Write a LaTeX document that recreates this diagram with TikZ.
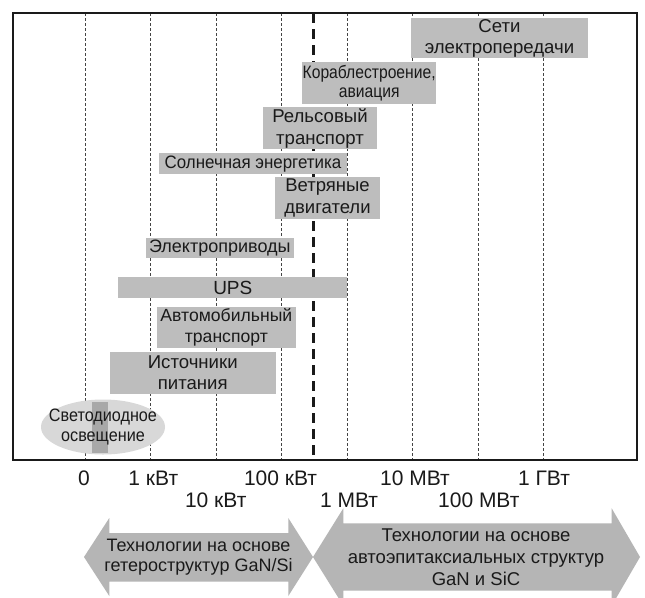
\documentclass[tikz,border=0pt]{standalone}
\usepackage{fontspec}
\setmainfont{Liberation Sans}
\newfontfamily\narrowA[FakeStretch=0.87]{Liberation Sans}
\newfontfamily\narrowB[FakeStretch=0.9]{Liberation Sans}
\newfontfamily\narrowC[FakeStretch=0.94]{Liberation Sans}
\usetikzlibrary{shapes.geometric,calc}
\definecolor{barfill}{HTML}{BDBDBD}
\definecolor{arrowfill}{HTML}{B5B5B5}
\definecolor{ellfill}{HTML}{D8D8D8}
\definecolor{ledfill}{HTML}{A8A8A8}
\definecolor{txt}{HTML}{1A1A1A}
\definecolor{gridc}{HTML}{444444}
\begin{document}
\begin{tikzpicture}[x=1pt,y=-1pt,
  bar/.style={fill=barfill, inner sep=0pt, align=center, text=txt,
    font=\fontsize{18}{21.5}\selectfont},
  tick/.style={inner sep=0pt, text=txt, font=\fontsize{21}{24}\selectfont},
  gridline/.style={draw=gridc, line width=0.8pt, dash pattern=on 2.5pt off 2.5pt},
  bigdash/.style={draw=txt, line width=2.6pt, dash pattern=on 10pt off 6pt},
  frame/.style={draw=txt, line width=1.5pt},
  arrowshape/.style={fill=arrowfill},
  arrowtext/.style={inner sep=0pt, align=center, text=txt}]
\useasboundingbox (0,0) rectangle (645,597);
\fill[white] (0,0) rectangle (645,597);

% grid lines
\foreach \i in {0,...,7}
  \draw[gridline] ({85+65.5*\i},13) -- ({85+65.5*\i},460);
\draw[bigdash] (313.3,13) -- (313.3,460);

% bars
\node[bar, minimum width=177.6pt, minimum height=40pt, font=\fontsize{18.6}{21.5}\selectfont] (seti) at (499.5,38.3) {Сети\\электропередачи};
\node[bar, minimum width=133.7pt, minimum height=42.6pt, font=\narrowA\fontsize{18}{19.5}\selectfont] (korabl) at (369.15,83) {Кораблестроение,\\авиация};
\node[bar, minimum width=113.4pt, minimum height=42pt, font=\fontsize{18.6}{21.5}\selectfont] (rels) at (320,128.3) {Рельсовый\\транспорт};
\node[bar, minimum width=187.4pt, minimum height=20.7pt, font=\narrowC\fontsize{18}{21}\selectfont] (soln) at (253,163.65) {Солнечная энергетика};
\node[bar, minimum width=105pt, minimum height=41.7pt, font=\fontsize{18.5}{21.5}\selectfont] (vetr) at (327.5,198.15) {Ветряные\\двигатели};
\node[bar, minimum width=148.3pt, minimum height=20.6pt] (elpr) at (219.85,248) {Электроприводы};
\node[bar, minimum width=229pt, minimum height=21pt, font=\fontsize{19}{21.5}\selectfont] (ups) at (232.8,287.8) {UPS};
\node[bar, minimum width=139.3pt, minimum height=41.6pt, font=\fontsize{17.6}{21.5}\selectfont] (avto) at (226.35,327.5) {Автомобильный\\транспорт};
\node[bar, minimum width=165.5pt, minimum height=42.3pt, font=\fontsize{18.6}{21.5}\selectfont] (ist) at (192.75,372.85) {Источники\\питания};

% LED ellipse
\node[ellipse, fill=ellfill, minimum width=124pt, minimum height=55pt,
  inner xsep=-16pt, inner ysep=-3pt,
  align=center, text=txt, font=\narrowB\fontsize{18}{20}\selectfont,
  path picture={\fill[ledfill] ($(path picture bounding box.center)+(-11.3,-25.5)$)
     rectangle ($(path picture bounding box.center)+(4.7,26.2)$);}]
  (led) at (103,427) {Светодиодное\\освещение};

% frame
\draw[frame] (13,13) rectangle (637,460);

% tick labels
\node[tick] (t0) at (84,478.3) {0};
\node[tick] (t1k) at (153.3,478.3) {1 кВт};
\node[tick] (t100k) at (280.5,478.3) {100 кВт};
\node[tick] (t10M) at (415,478.3) {10 МВт};
\node[tick] (t1G) at (544,478.3) {1 ГВт};
\node[tick] (t10k) at (215.7,500) {10 кВт};
\node[tick] (t1M) at (349,500) {1 МВт};
\node[tick] (t100M) at (478.8,500) {100 МВт};

% bottom arrows
\fill[arrowshape] (84,557) -- (109.3,518) -- (109.3,533) -- (288.3,533) -- (288.3,518)
  -- (313,557) -- (288.3,596) -- (288.3,581.5) -- (109.3,581.5) -- (109.3,596) -- cycle;
\fill[arrowshape] (313,557) -- (343.3,508.3) -- (343.3,523.3) -- (611.7,523.3) -- (611.7,508.3)
  -- (640,557) -- (611.7,605.7) -- (611.7,590.5) -- (343.3,590.5) -- (343.3,605.7) -- cycle;
\node[arrowtext, font=\fontsize{18}{20}\selectfont] (gansi) at (198.5,556.7)
  {Технологии на основе\\гетероструктур GaN/Si};
\node[arrowtext, font=\fontsize{18.5}{22}\selectfont] (gansic) at (476,557.6)
  {Технологии на основе\\автоэпитаксиальных структур\\GaN и SiC};
\end{tikzpicture}
\end{document}
